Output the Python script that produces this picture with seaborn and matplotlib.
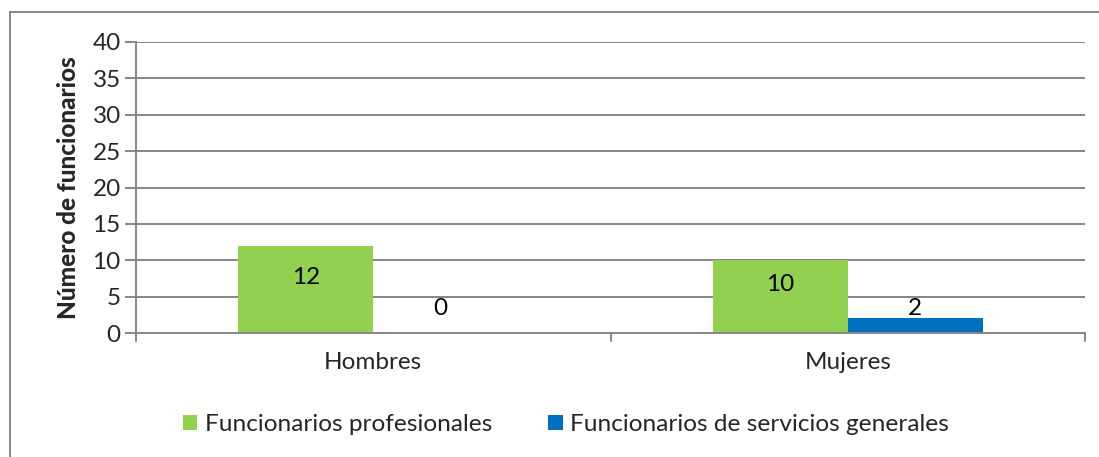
import matplotlib
matplotlib.use("Agg")
import matplotlib.pyplot as plt
import seaborn as sns
import pandas as pd
from matplotlib.patches import Rectangle

categories = ["Hombres", "Mujeres"]
series_names = ["Funcionarios profesionales", "Funcionarios de servicios generales"]
profesionales = [12, 10]
servicios = [0, 2]
colors = ["#92D050", "#0070C0"]

df = pd.DataFrame({
    "cat": categories * 2,
    "serie": [series_names[0]] * 2 + [series_names[1]] * 2,
    "val": profesionales + servicios,
})

sns.set_theme(style="white")
plt.rcParams["font.family"] = ["Lato", "DejaVu Sans"]
FS = 17.5

fig = plt.figure(figsize=(10.99, 4.57), dpi=100)
ax = fig.add_axes([136 / 1099, 1 - 333 / 457, (1085 - 136) / 1099, (333 - 42) / 457])

sns.barplot(data=df, x="cat", y="val", hue="serie", order=categories,
            hue_order=series_names, palette=colors, width=0.568, ax=ax,
            saturation=1, legend=True, linewidth=0)

grid_c = "#868686"
ax.set_ylim(0, 40)
ax.set_xlim(-0.5, 1.5)
ax.set_yticks(range(0, 41, 5))
for y in range(5, 41, 5):
    ax.axhline(y, color=grid_c, lw=1.4, zorder=0)
ax.set_axisbelow(True)
for s in ["top", "right"]:
    ax.spines[s].set_visible(False)
for s in ["left", "bottom"]:
    ax.spines[s].set_color(grid_c)
    ax.spines[s].set_linewidth(1.4)
ax.tick_params(axis="y", length=8, width=1.4, color=grid_c, labelsize=FS, pad=3, left=True)
ax.set_xticks([0, 1])
ax.set_xticklabels(categories)
ax.tick_params(axis="x", length=0, labelsize=FS, pad=14)
for xb in [-0.5, 0.5, 1.5]:
    ax.plot([xb, xb], [0, -1.1], color=grid_c, lw=1.4, clip_on=False)
ax.set_xlabel("")
ax.set_ylabel("Número de funcionarios", fontsize=FS, fontweight="black", labelpad=9)

for i, cont in enumerate(ax.containers):
    for p in cont:
        h = p.get_height()
        if i == 0:
            y = h / 2 + 1.6
        else:
            y = h + 1.4 if h > 0 else 3.4
        y = max(y, 3.4)
        ax.text(p.get_x() + p.get_width() / 2, y, f"{int(round(h))}",
                ha="center", va="center", fontsize=FS, color="black")

leg = ax.legend(loc="center", bbox_to_anchor=(0.453, -0.315), ncol=2,
                frameon=False, fontsize=17.6, handlelength=0.6, handleheight=0.6,
                handletextpad=0.3, columnspacing=2.3)

fig.patches.append(Rectangle((10 / 1099, -0.1), 1.2, (1 - 12 / 457) + 0.1,
                             transform=fig.transFigure, fill=False,
                             edgecolor="#868686", lw=1.4))

fig.savefig("out.png", dpi=100)
